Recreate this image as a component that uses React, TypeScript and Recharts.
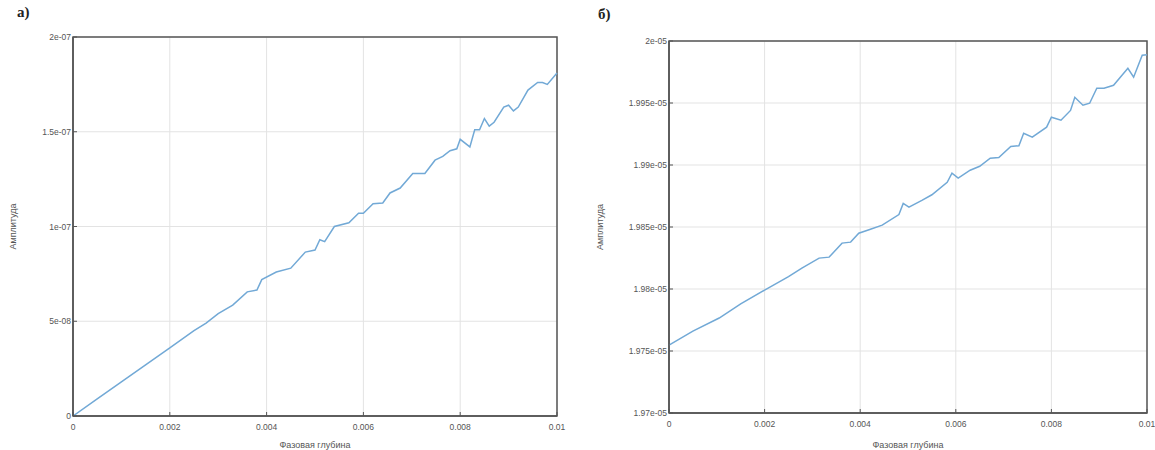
import { LineChart, Line, XAxis, YAxis, CartesianGrid, ReferenceArea } from "recharts";

// left panel (а)
const leftX = [
  0, 0.0005, 0.001, 0.0015, 0.002, 0.0025, 0.00275, 0.003, 0.0033, 0.0036, 0.0038, 0.0039, 0.0042, 0.0045,
  0.0048, 0.005, 0.0051, 0.0052, 0.0054, 0.0057, 0.0059, 0.006, 0.0062, 0.0064, 0.00655, 0.00676, 0.00702,
  0.00727, 0.00748, 0.00764, 0.00779, 0.00793, 0.008, 0.0082, 0.0083, 0.0084, 0.0085, 0.0086, 0.0087, 0.0089,
  0.009, 0.0091, 0.0092, 0.0094, 0.0096, 0.0097, 0.0098, 0.01,
];
const leftY = [
  0, 0.09e-7, 0.18e-7, 0.27e-7, 0.36e-7, 0.45e-7, 0.49e-7, 0.54e-7, 0.585e-7, 0.655e-7, 0.665e-7, 0.72e-7,
  0.76e-7, 0.78e-7, 0.865e-7, 0.876e-7, 0.93e-7, 0.92e-7, 1.0e-7, 1.02e-7, 1.07e-7, 1.07e-7, 1.12e-7, 1.124e-7,
  1.177e-7, 1.203e-7, 1.28e-7, 1.28e-7, 1.35e-7, 1.37e-7, 1.4e-7, 1.41e-7, 1.46e-7, 1.42e-7, 1.51e-7, 1.51e-7,
  1.57e-7, 1.53e-7, 1.55e-7, 1.63e-7, 1.64e-7, 1.61e-7, 1.63e-7, 1.72e-7, 1.76e-7, 1.76e-7, 1.75e-7, 1.81e-7,
];
const leftYTicks = [0, 5e-8, 1e-7, 1.5e-7, 2e-7];
const leftYLabels = ["0", "5e-08", "1e-07", "1.5e-07", "2e-07"];

// right panel (б)
const rightX = [
  0, 0.0005, 0.00105, 0.0015, 0.002, 0.0025, 0.00278, 0.00314, 0.00335, 0.00362, 0.0038, 0.00397, 0.0042,
  0.00446, 0.00481, 0.0049, 0.00502, 0.0053, 0.0055, 0.00582, 0.00592, 0.00605, 0.0063, 0.0065, 0.00672,
  0.0069, 0.00715, 0.00732, 0.00742, 0.0076, 0.0079, 0.008, 0.0082, 0.0084, 0.00849, 0.00866, 0.0088, 0.00895,
  0.0091, 0.0093, 0.0096, 0.00972, 0.0099, 0.01,
];
const rightY = [
  1.97548e-5, 1.9766e-5, 1.97766e-5, 1.9788e-5, 1.97991e-5, 1.981e-5, 1.98168e-5, 1.98249e-5, 1.98257e-5,
  1.9837e-5, 1.98378e-5, 1.9845e-5, 1.9848e-5, 1.98515e-5, 1.986e-5, 1.9869e-5, 1.9866e-5, 1.98716e-5,
  1.9876e-5, 1.98861e-5, 1.98934e-5, 1.98894e-5, 1.98958e-5, 1.9899e-5, 1.99055e-5, 1.9906e-5, 1.9915e-5,
  1.99155e-5, 1.99256e-5, 1.99224e-5, 1.99305e-5, 1.99385e-5, 1.99361e-5, 1.9944e-5, 1.99546e-5, 1.99482e-5,
  1.99498e-5, 1.99619e-5, 1.99619e-5, 1.99643e-5, 1.9978e-5, 1.99708e-5, 1.99885e-5, 1.9989e-5,
];
const rightYTicks = [1.97e-5, 1.975e-5, 1.98e-5, 1.985e-5, 1.99e-5, 1.995e-5, 2e-5];
const rightYLabels = ["1.97e-05", "1.975e-05", "1.98e-05", "1.985e-05", "1.99e-05", "1.995e-05", "2e-05"];

const xTicks = [0, 0.002, 0.004, 0.006, 0.008, 0.01];
const xLabels = ["0", "0.002", "0.004", "0.006", "0.008", "0.01"];

const xTitle = "Фазовая глубина";
const yTitle = "Амплитуда";

const font = "'Liberation Sans', Arial, sans-serif";
const tickStyle = { fontSize: 8.5, fill: "#555", fontFamily: font };
const lineColor = "#72a9d6";
const frame = "#555";

interface PanelProps {
  xs: number[];
  ys: number[];
  yTicks: number[];
  yLabels: string[];
  width: number;
  yAxisWidth: number;
  top: number;
  right: number;
  xAxisHeight: number;
  labelOffset: number;
}

function Panel({ xs, ys, yTicks, yLabels, width, yAxisWidth, top, right, xAxisHeight, labelOffset }: PanelProps) {
  const data = xs.map((x, i) => ({ x, y: ys[i] }));
  const domain: [number, number] = [yTicks[0], yTicks[yTicks.length - 1]];
  return (
    <LineChart width={width} height={450} data={data} margin={{ top, right, bottom: 0, left: 0 }}>
      <CartesianGrid stroke="#e3e3e3" strokeWidth={1} />
      <XAxis
        dataKey="x"
        type="number"
        domain={[0, 0.01]}
        ticks={xTicks}
        tickFormatter={(v: number) => xLabels[xTicks.indexOf(v)] ?? String(v)}
        tick={tickStyle}
        tickSize={-4}
        tickLine={{ stroke: frame }}
        tickMargin={12}
        axisLine={{ stroke: frame, strokeWidth: 1.5 }}
        height={xAxisHeight}
        interval={0}
        label={{ value: xTitle, position: "insideBottom", offset: 2, style: { ...tickStyle, fontSize: 9 } }}
      />
      <YAxis
        type="number"
        domain={domain}
        allowDataOverflow
        ticks={yTicks}
        tickFormatter={(v: number) => yLabels[yTicks.indexOf(v)] ?? String(v)}
        tick={tickStyle}
        tickSize={-4}
        tickLine={{ stroke: frame }}
        tickMargin={6}
        axisLine={{ stroke: frame, strokeWidth: 1.5 }}
        width={yAxisWidth}
        interval={0}
        label={{ value: yTitle, angle: -90, position: "insideLeft", offset: labelOffset, style: { ...tickStyle, fontSize: 9, textAnchor: "middle" } }}
      />
      <ReferenceArea x1={0} x2={0.01} y1={domain[0]} y2={domain[1]} fill="none" fillOpacity={0}
        stroke={frame} strokeWidth={1.5} ifOverflow="visible" />
      <Line type="linear" dataKey="y" stroke={lineColor} strokeWidth={1.5} dot={false} isAnimationActive={false} />
    </LineChart>
  );
}

export default function App() {
  return (
    <div style={{ position: "absolute", left: 0, top: 0, width: 1155, height: 450, background: "#fff", overflow: "hidden" }}>
      <div style={{ position: "absolute", left: 0, top: 0 }}>
        <Panel xs={leftX} ys={leftY} yTicks={leftYTicks} yLabels={leftYLabels} width={580} yAxisWidth={73}
          top={37} right={23} xAxisHeight={34} labelOffset={13} />
      </div>
      <div style={{ position: "absolute", left: 580, top: 0 }}>
        <Panel xs={rightX} ys={rightY} yTicks={rightYTicks} yLabels={rightYLabels} width={580} yAxisWidth={89}
          top={41} right={13} xAxisHeight={37} labelOffset={20} />
      </div>
      <div style={{ position: "absolute", left: 17, top: 4, fontFamily: "'Liberation Serif', serif", fontSize: 15, fontWeight: "bold", color: "#222" }}>а)</div>
      <div style={{ position: "absolute", left: 598, top: 6, fontFamily: "'Liberation Serif', serif", fontSize: 15, fontWeight: "bold", color: "#222" }}>б)</div>
    </div>
  );
}
